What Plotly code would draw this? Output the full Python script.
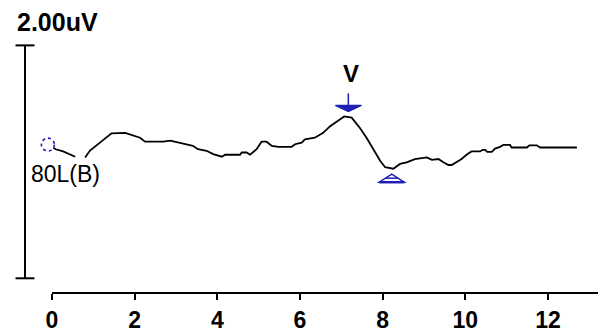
import plotly.graph_objects as go

# Latency (ms) and amplitude (uV) of the waveform
latency_ms = [-0.10, 0.09, 0.27, 0.56, None, 0.80, 0.92, 1.16, 1.31, 1.44, 1.77, 2.01, 2.13, 2.25,
              2.69, 2.86, 3.10, 3.41, 3.53, 3.74, 3.90, 4.11, 4.19, 4.55, 4.59, 4.71, 4.79,
              4.95, 5.07, 5.19, 5.32, 5.48, 5.80, 5.88, 6.04, 6.12, 6.36, 6.44, 6.56, 6.73,
              6.89, 7.01, 7.07, 7.25, 7.33, 7.45, 7.61, 7.77, 7.94, 8.06, 8.26, 8.42, 8.58,
              8.78, 9.07, 9.19, 9.35, 9.47, 9.59, 9.67, 9.79, 9.91, 10.03, 10.15, 10.36,
              10.42, 10.48, 10.53, 10.64, 10.72, 10.84, 10.92, 11.08, 11.12, 11.49, 11.55,
              11.73, 11.81, 12.70]
amplitude_uv = [0.000, -0.040, -0.059, -0.104, None, -0.110, -0.051, 0.017, 0.059, 0.097, 0.101,
                0.076, 0.059, 0.025, 0.025, 0.034, 0.013, -0.011, -0.040, -0.053, -0.082,
                -0.104, -0.087, -0.087, -0.068, -0.068, -0.087, -0.040, 0.025, 0.025, -0.011,
                -0.019, -0.019, 0.003, 0.017, 0.045, 0.059, 0.073, 0.101, 0.158, 0.200, 0.234,
                0.242, 0.232, 0.200, 0.143, 0.059, -0.040, -0.138, -0.194, -0.207, -0.166,
                -0.152, -0.124, -0.110, -0.131, -0.124, -0.152, -0.175, -0.175, -0.152,
                -0.124, -0.087, -0.059, -0.059, -0.045, -0.045, -0.062, -0.062, -0.034,
                -0.019, -0.003, -0.003, -0.025, -0.025, -0.006, -0.006, -0.025, -0.025]

peak_label = "V"
peak_latency = 7.17
peak_amp = 0.242
trough_latency = 8.22
trough_amp = -0.207

trace_label = "80L(B)"
scale_label = "2.00uV"
scale_top = 0.852
scale_bottom = -1.148

x_ticks = [0, 2, 4, 6, 8, 10, 12]
x_tick_text = ["0", "2", "4", "6", "8", "10", "12"]
x_range = [-1.0646, 13.404]
y_range = [-1.2743, 1.173]

BLUE = "#1f1fb4"

# page body has an 8px margin; figure is sized so that it ends at the window edge
OFF = 8
W, H = 606 - OFF, 333 - OFF
PLOT_H = 298 - OFF


def px(ref_x):
    return (ref_x - OFF) / W


def py(ref_y):
    return 1 - (ref_y - OFF) / PLOT_H


fig = go.Figure()
fig.add_trace(go.Scatter(x=latency_ms, y=amplitude_uv, mode="lines",
                         line=dict(color="black", width=1.8), connectgaps=False,
                         hoverinfo="skip", showlegend=False))

shapes = []
# start circle (dotted)
shapes.append(dict(type="circle", xref="x", yref="y", xsizemode="pixel", ysizemode="pixel",
                   xanchor=latency_ms[0], yanchor=amplitude_uv[0],
                   x0=-6.5, x1=6.5, y0=-6.5, y1=6.5,
                   line=dict(color=BLUE, width=1.6, dash="dot"), fillcolor="white", layer="above"))
# peak marker (above peak)
shapes.append(dict(type="path", xref="x", yref="y", xsizemode="pixel", ysizemode="pixel",
                   xanchor=peak_latency, yanchor=peak_amp,
                   path="M -13,11 L 13,11 L 0,5 Z",
                   line=dict(color=BLUE, width=1.5), fillcolor=BLUE, layer="above"))
shapes.append(dict(type="line", xref="x", yref="y", xsizemode="pixel", ysizemode="pixel",
                   xanchor=peak_latency, yanchor=peak_amp,
                   x0=0, x1=0, y0=5, y1=23, line=dict(color=BLUE, width=1.5), layer="above"))
# trough marker (below trough)
shapes.append(dict(type="path", xref="x", yref="y", xsizemode="pixel", ysizemode="pixel",
                   xanchor=trough_latency, yanchor=trough_amp,
                   path="M -12.5,-13.5 L 12.5,-13.5 L 0,-5.5 Z",
                   line=dict(color=BLUE, width=1.5), fillcolor="white", layer="above"))
shapes.append(dict(type="line", xref="x", yref="y", xsizemode="pixel", ysizemode="pixel",
                   xanchor=trough_latency, yanchor=trough_amp,
                   x0=-6.5, x1=6.5, y0=-9.5, y1=-9.5, line=dict(color=BLUE, width=1.5), layer="above"))
shapes.append(dict(type="line", xref="x", yref="y", xsizemode="pixel", ysizemode="pixel",
                   xanchor=trough_latency, yanchor=trough_amp,
                   x0=-12.5, x1=12.5, y0=-13.5, y1=-13.5, line=dict(color=BLUE, width=2.5), layer="above"))
# x axis line from 0 to the right edge
shapes.append(dict(type="line", xref="x", yref="paper", x0=x_ticks[0], x1=x_range[1], y0=0, y1=0,
                   line=dict(color="black", width=2)))
# amplitude scale bar
bar_x = px(25)
cap = 9.5 / W
shapes.append(dict(type="line", xref="paper", yref="y", x0=bar_x, x1=bar_x,
                   y0=scale_bottom, y1=scale_top, line=dict(color="black", width=2)))
shapes.append(dict(type="line", xref="paper", yref="y", x0=bar_x - cap, x1=bar_x + cap,
                   y0=scale_top, y1=scale_top, line=dict(color="black", width=2)))
shapes.append(dict(type="line", xref="paper", yref="y", x0=bar_x - cap, x1=bar_x + cap,
                   y0=scale_bottom, y1=scale_bottom, line=dict(color="black", width=2)))

annotations = [
    dict(text=peak_label, x=peak_latency, y=peak_amp, xref="x", yref="y", showarrow=False,
         xshift=3, yshift=43, font=dict(family="Liberation Sans", size=24, color="black", weight="bold")),
    dict(text=trace_label, x=px(65), y=py(176.5), xref="paper", yref="paper", showarrow=False,
         xanchor="center", yanchor="middle",
         font=dict(family="Liberation Sans", size=23, color="black")),
    dict(text=scale_label, x=px(15), y=py(22), xref="paper", yref="paper", showarrow=False,
         xanchor="left", yanchor="middle",
         font=dict(family="Liberation Sans", size=25, color="black", weight="bold")),
]

fig.update_layout(
    width=W, height=H, margin=dict(l=0, r=0, t=0, b=H - PLOT_H),
    paper_bgcolor="white", plot_bgcolor="white",
    shapes=shapes, annotations=annotations, showlegend=False,
    xaxis=dict(range=x_range, showgrid=False, zeroline=False, showline=False,
               tickmode="array", tickvals=x_ticks, ticktext=x_tick_text,
               ticks="outside", ticklen=6, tickwidth=2, tickcolor="black",
               tickfont=dict(family="Liberation Sans", size=23, color="black", weight="bold")),
    yaxis=dict(range=y_range, visible=False),
)

fig.write_html("out.html")
